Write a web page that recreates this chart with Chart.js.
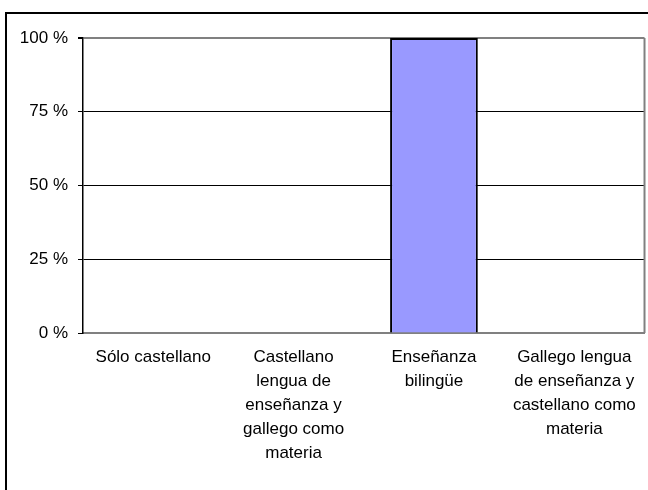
<!DOCTYPE html>
<html>
<head>
<meta charset="utf-8">
<script src="https://cdn.jsdelivr.net/npm/chart.js@4/dist/chart.umd.min.js"></script>
<style>
    body { margin: 0; background: #fff; }
    #wrap { width: 648px; height: 490px; }
</style>
</head>
<body>
<div id="wrap"><canvas id="js--chart"></canvas></div>
<script>
const categories = [
    ["Sólo castellano"],
    ["Castellano", "lengua de", "enseñanza y", "gallego como", "materia"],
    ["Enseñanza", "bilingüe"],
    ["Gallego lengua", "de enseñanza y", "castellano como", "materia"]
];
const values = [0, 0, 100, 0];
const yTicks = [0, 25, 50, 75, 100];

// frame round the whole picture and the grey plot border
const frame = {
    id: "frame",
    beforeDraw(chart) {
        const ctx = chart.ctx;
        ctx.save();
        ctx.strokeStyle = "#000";
        ctx.lineWidth = 2;
        ctx.strokeRect(6, 13, 700, 600);
        ctx.restore();
    },
    afterDatasetsDraw(chart) {
        const a = chart.chartArea;
        const ctx = chart.ctx;
        ctx.save();
        ctx.strokeStyle = "#808080";
        ctx.lineWidth = 2;
        ctx.beginPath();
        ctx.moveTo(a.right, a.top);
        ctx.lineTo(a.right, a.bottom);
        ctx.stroke();
        ctx.restore();
    }
};

const font = { family: "'Liberation Sans', Arial, sans-serif", size: 17 };

new Chart(document.getElementById("js--chart"), {
    type: "bar",
    data: {
        labels: categories,
        datasets: [{
            data: values,
            backgroundColor: "#9999ff",
            borderColor: "#000",
            borderWidth: 2,
            barPercentage: 0.625,
            categoryPercentage: 1
        }]
    },
    options: {
        responsive: true,
        maintainAspectRatio: false,
        animation: false,
        layout: { padding: { left: 0, top: 38, right: 2, bottom: 0 } },
        plugins: { legend: { display: false }, tooltip: { enabled: false } },
        scales: {
            x: {
                grid: { display: false, drawTicks: false },
                border: { color: "#808080", width: 2 },
                ticks: {
                    color: "#000",
                    font: { ...font, lineHeight: 1.41 },
                    padding: 12,
                    maxRotation: 0,
                    autoSkip: false
                },
                afterFit: (axis) => { axis.height = 157; }
            },
            y: {
                min: 0,
                max: 100,
                afterBuildTicks: (axis) => { axis.ticks = yTicks.map(v => ({ value: v })); },
                grid: {
                    color: (c) => (c.tick && (c.tick.value === 100 || c.tick.value === 0)) ? "#808080" : "#000",
                    lineWidth: (c) => (c.tick && c.tick.value === 100) ? 2 : 1,
                    tickLength: 5,
                    tickColor: "#000"
                },
                border: { color: "#000", width: 1.5 },
                ticks: {
                    color: "#000",
                    font: font,
                    padding: 10,
                    callback: (v) => v + " %"
                },
                afterFit: (axis) => { axis.width = 83; }
            }
        }
    },
    plugins: [frame]
});
</script>
</body>
</html>
